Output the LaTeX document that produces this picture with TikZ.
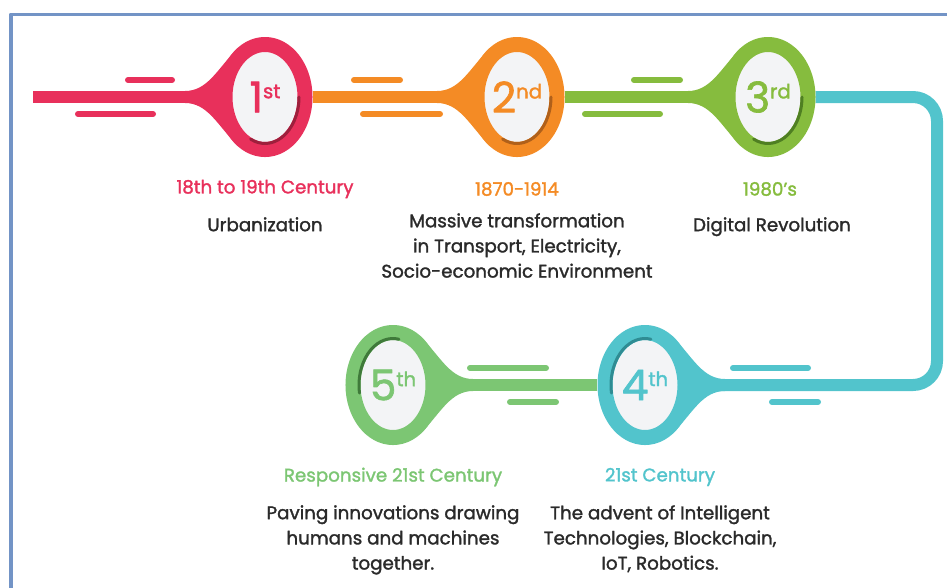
\documentclass[tikz,border=0pt]{standalone}
\usepackage{fontspec}
\setmainfont{Poppins}[FakeBold=1.6]
\usetikzlibrary{shapes.geometric,backgrounds}

\definecolor{redA}{HTML}{E8305B}
\definecolor{redD}{HTML}{9E1F3C}
\definecolor{orgA}{HTML}{F48B25}
\definecolor{orgD}{HTML}{B0601A}
\definecolor{grnA}{HTML}{86BC3E}
\definecolor{grnD}{HTML}{4F7F22}
\definecolor{tealA}{HTML}{52C4CC}
\definecolor{tealD}{HTML}{2F8C93}
\definecolor{lgrA}{HTML}{7CC673}
\definecolor{lgrD}{HTML}{3F7A3A}
\definecolor{txt}{HTML}{2A2A2A}
\definecolor{inner}{HTML}{F3F4F6}
\definecolor{framecol}{HTML}{7394C6}

\newcommand{\ordnum}[2]{#1\raisebox{10pt}{\fontsize{14}{14}\selectfont #2}}

\begin{document}
\begin{tikzpicture}[x=0.025cm,y=-0.025cm,line cap=round,line join=round,
 stage/.style={ellipse,draw=#1,fill=inner,line width=0.375cm,minimum width=2cm,
  minimum height=2.625cm,inner sep=0pt,text=#1,font=\fontsize{30}{30}\selectfont},
 link/.style={draw=#1,line width=0.3cm},
 speedline/.style={draw=#1,line width=0.15cm},
 era/.style={text=#1,inner sep=0pt,font=\fontsize{13}{15}\selectfont},
 desc/.style={text=txt,align=center,inner sep=0pt,anchor=north,font=\fontsize{13}{17.9}\selectfont},
 tail/.pic={\fill (-80,-6) .. controls (-58,-6) and (-48,-27) .. (-30,-46) -- (0,-46)
  -- (0,46) -- (-30,46) .. controls (-48,27) and (-58,6) .. (-80,6) -- cycle;}]
 \useasboundingbox (0,0) rectangle (947,587);
 \draw[framecol,line width=0.075cm,line cap=butt] (950,14) -- (11,14) -- (11,590);
 % stages
 \node[stage=redA] (s1) at (265,97) {\ordnum{1}{st}};
 \node[stage=orgA] (s2) at (517,97) {\ordnum{2}{nd}};
 \node[stage=grnA] (s3) at (768,97) {\ordnum{3}{rd}};
 \node[stage=tealA] (s4) at (645,385) {\ordnum{4}{th}};
 \node[stage=lgrA] (s5) at (393,385) {\ordnum{5}{th}};
 \coordinate (start) at (33,97);
 \coordinate (turnA) at (937,97);
 \coordinate (turnB) at (937,385);
 \begin{scope}[on background layer]
  \draw[link=redA] (start) -- (s1);
  \draw[link=orgA] (s1) -- (s2);
  \draw[link=grnA] (s2) -- (s3);
  \draw[link=tealA,rounded corners=0.6cm] (s3) -- (turnA) -- (turnB) -- (s4);
  \draw[link=lgrA] (s4) -- (s5);
  \pic[fill=redA] at (s1.center) {tail};
  \pic[fill=orgA] at (s2.center) {tail};
  \pic[fill=grnA] at (s3.center) {tail};
  \pic[fill=tealA,xscale=-1] at (s4.center) {tail};
  \pic[fill=lgrA,xscale=-1] at (s5.center) {tail};
 \end{scope}
 % inner shadows
 \draw[redD,line width=0.075cm] (s1.center) ++(0:34 and 46.5) arc[start angle=0,end angle=115,x radius=34,y radius=46.5];
 \draw[orgD,line width=0.075cm] (s2.center) ++(0:34 and 46.5) arc[start angle=0,end angle=115,x radius=34,y radius=46.5];
 \draw[grnD,line width=0.075cm] (s3.center) ++(0:34 and 46.5) arc[start angle=0,end angle=115,x radius=34,y radius=46.5];
 \draw[tealD,line width=0.075cm] (s4.center) ++(170:34 and 46.5) arc[start angle=170,end angle=280,x radius=34,y radius=46.5];
 \draw[lgrD,line width=0.075cm] (s5.center) ++(170:34 and 46.5) arc[start angle=170,end angle=280,x radius=34,y radius=46.5];
 % speed lines
 \draw[speedline=redA] (128,80) -- (172,80) (78,114) -- (153,114);
 \draw[speedline=orgA] (354,80) -- (400,80) (363,114) -- (440,114);
 \draw[speedline=grnA] (634,80) -- (680,80) (585,114) -- (660,114);
 \draw[speedline=lgrA] (470,368) -- (546,368) (510,402) -- (556,402);
 \draw[speedline=tealA] (733,368) -- (808,368) (772,402) -- (818,402);
 % texts
 \node[era=redA] (t1) at (265,189) {18th to 19th Century};
 \node[era=orgA] (t2) at (517,189) {1870-1914};
 \node[era=grnA] (t3) at (770,189) {1980’s};
 \node[era=lgrA] (t5) at (393,477) {Responsive 21st Century};
 \node[era=tealA] (t4) at (660,477) {21st Century};
 \node[desc] (d1) at (265,217) {Urbanization};
 \node[desc] (d2) at (517,213) {Massive transformation\\in Transport, Electricity,\\Socio-economic Environment};
 \node[desc] (d3) at (772,217) {Digital Revolution};
 \node[desc] (d5) at (393,505) {Paving innovations drawing\\humans and machines\\together.};
 \node[desc] (d4) at (660,505) {The advent of Intelligent\\Technologies, Blockchain,\\IoT, Robotics.};
\end{tikzpicture}
\end{document}
